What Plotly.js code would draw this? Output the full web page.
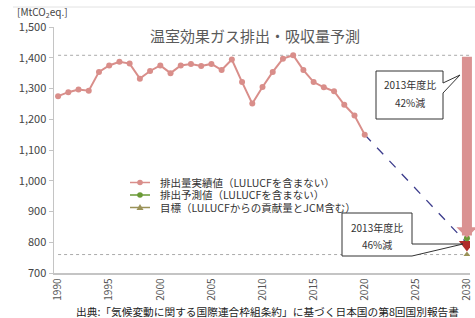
<!DOCTYPE html>
<html>
<head>
<meta charset="utf-8">
<script src="https://cdn.plot.ly/plotly-3.0.1.min.js"></script>
<style>html,body{margin:0;padding:0;background:#fff;}#chart{width:475px;height:318px;}</style>
</head>
<body>
<div id="chart"></div>
<script>
// ---- data ----
const years = [1990,1991,1992,1993,1994,1995,1996,1997,1998,1999,2000,2001,2002,2003,2004,2005,2006,2007,2008,2009,2010,2011,2012,2013,2014,2015,2016,2017,2018,2019,2020];
const actual = [1275,1288,1297,1293,1354,1375,1387,1381,1332,1357,1375,1350,1375,1380,1373,1380,1360,1394,1321,1251,1305,1354,1397,1408,1360,1321,1304,1291,1247,1212,1150];
const projLineYears = [2020, 2030];
const projLineValues = [1150, 797];
const projYears = [2030];
const projValues = [813];
const redYears = [2030];
const redValues = [793];
const targetYears = [2030];
const targetValues = [760];
const base2013 = 1408;
const targetLevel = 760;
const arrowTip = 815;
const xTicks = [1990,1995,2000,2005,2010,2015,2020,2025,2030];
const yTicks = [700,800,900,1000,1100,1200,1300,1400,1500];
const legendNames = ['排出量実績値（LULUCFを含まない）','排出予測値（LULUCFを含まない）','目標（LULUCFからの貢献量とJCM含む）'];
const callout1 = ['2013年度比','42%減'];
const callout2 = ['2013年度比','46%減'];

// ---- colours ----
const cPink = '#d98e8a', cGreen = '#6a9a36', cOlive = '#9a9258', cNavy = '#3c3c8c', cRed = '#b02a2a', cArrow = '#da9292';
const F = '"Noto Sans CJK JP", "Noto Sans", sans-serif';

// pixel -> paper helpers (plot area: x 54..470, y 27..273)
const L = 54, T = 27, W = 416, H = 246;
const X = px => (px - L) / W;
const Y = py => (T + H - py) / H;

const traces = [
  {x: projLineYears, y: projLineValues, mode: 'lines', line: {color: cNavy, width: 1.3, dash: 'dash'}, showlegend: false, hoverinfo: 'skip'},
  {x: years, y: actual, mode: 'lines+markers', line: {color: cPink, width: 2}, marker: {color: cPink, size: 6}, showlegend: false},
  {x: redYears, y: redValues, mode: 'markers', marker: {color: cRed, size: 14, symbol: 'triangle-down'}, showlegend: false},
  {x: projYears, y: projValues, mode: 'markers', marker: {color: cGreen, size: 6}, showlegend: false},
  {x: targetYears, y: targetValues, mode: 'markers', marker: {color: cOlive, size: 6, symbol: 'triangle-up'}, showlegend: false}
];

const shapes = [
  // frame line at top
  {type: 'line', xref: 'paper', yref: 'paper', x0: X(13), x1: X(475), y0: Y(7), y1: Y(7), line: {color: '#e2e2e2', width: 1}},
  // dotted reference lines
  {type: 'line', xref: 'x', yref: 'y', x0: 1990, x1: 2030.3, y0: base2013, y1: base2013, line: {color: '#aaaaaa', width: 1, dash: 'dot'}, layer: 'below'},
  {type: 'line', xref: 'x', yref: 'y', x0: 1990, x1: 2030.3, y0: targetLevel, y1: targetLevel, line: {color: '#aaaaaa', width: 1, dash: 'dot'}, layer: 'below'},
  // callout 1 (42%)
  {type: 'path', xref: 'paper', yref: 'paper', xsizemode: 'pixel', ysizemode: 'pixel', xanchor: 0, yanchor: 0,
   path: 'M322,154 L322,202 L389,202 L389,190 L406,198 L389,180 L389,154 Z', fillcolor: '#ffffff', line: {color: '#333333', width: 1}},
  // callout 2 (46%)
  {type: 'path', xref: 'paper', yref: 'paper', xsizemode: 'pixel', ysizemode: 'pixel', xanchor: 0, yanchor: 0,
   path: 'M288,17 L288,60 L358,60 L358,29 L409,29 L358,17 Z', fillcolor: '#ffffff', line: {color: '#333333', width: 1}}
];

// manual legend
const legColors = [cPink, cGreen, cOlive];
const legRows = [182.5, 195, 207.5];
const annotations = [
  // big pink arrow from the 2013 level down to the 2030 projection
  {xref: 'x', yref: 'y', axref: 'x', ayref: 'y', x: 2030, y: arrowTip, ax: 2030, ay: base2013, text: '', showarrow: true,
   arrowhead: 1, arrowsize: 0.35, arrowwidth: 10, arrowcolor: cArrow, standoff: 0, startstandoff: 0}
];
legRows.forEach((py, i) => {
  shapes.push({type: 'line', xref: 'paper', yref: 'paper', x0: X(130), x1: X(150), y0: Y(py), y1: Y(py), line: {color: legColors[i], width: 1.5}});
  if (i < 2) {
    shapes.push({type: 'circle', xref: 'paper', yref: 'paper', xsizemode: 'pixel', ysizemode: 'pixel', xanchor: X(140), yanchor: Y(py), x0: -2.8, x1: 2.8, y0: -2.8, y1: 2.8, fillcolor: legColors[i], line: {width: 0}});
  } else {
    shapes.push({type: 'path', xref: 'paper', yref: 'paper', xsizemode: 'pixel', ysizemode: 'pixel', xanchor: X(140), yanchor: Y(py), path: 'M-3.5,-2.5 L3.5,-2.5 L0,3.5 Z', fillcolor: legColors[i], line: {width: 0}});
  }
  annotations.push({xref: 'paper', yref: 'paper', x: X(158), y: Y(py), xanchor: 'left', yanchor: 'middle', showarrow: false, text: legendNames[i], font: {family: F, size: 10.5, color: '#333'}});
});

annotations.push(
  {xref: 'paper', yref: 'paper', x: X(15), y: Y(12), xanchor: 'left', yanchor: 'middle', showarrow: false, text: '[MtCO<sub>2</sub>eq.]', font: {family: F, size: 10, color: '#444'}},
  {xref: 'paper', yref: 'paper', x: X(409.5), y: Y(84), xanchor: 'center', yanchor: 'middle', showarrow: false, text: callout1[0], font: {family: F, size: 10, color: '#333'}},
  {xref: 'paper', yref: 'paper', x: X(409.5), y: Y(102), xanchor: 'center', yanchor: 'middle', showarrow: false, text: callout1[1], font: {family: F, size: 10, color: '#333'}},
  {xref: 'paper', yref: 'paper', x: X(377), y: Y(227), xanchor: 'center', yanchor: 'middle', showarrow: false, text: callout2[0], font: {family: F, size: 10, color: '#333'}},
  {xref: 'paper', yref: 'paper', x: X(377), y: Y(244), xanchor: 'center', yanchor: 'middle', showarrow: false, text: callout2[1], font: {family: F, size: 10, color: '#333'}},
  {xref: 'paper', yref: 'paper', x: X(267), y: Y(311), xanchor: 'center', yanchor: 'middle', showarrow: false, text: '出典:「気候変動に関する国際連合枠組条約」に基づく日本国の第8回国別報告書', font: {family: F, size: 10.7, color: '#222'}}
);

const layout = {
  width: 475, height: 318,
  margin: {l: L, r: 475 - L - W, t: T, b: 318 - T - H, pad: 0},
  paper_bgcolor: '#ffffff', plot_bgcolor: '#ffffff',
  showlegend: false,
  title: {text: '温室効果ガス排出・吸収量予測', x: 255/475, xanchor: 'center', y: 1 - 37/318, yanchor: 'middle', font: {family: F, size: 15, color: '#5a5a5a'}},
  xaxis: {range: [1989.6, 2030.3], tickvals: xTicks, ticktext: xTicks.map(String), tickangle: -90, showgrid: false, zeroline: false,
          showline: true, linecolor: '#c4c4c4', linewidth: 1.5, ticks: '', tickfont: {family: F, size: 10, color: '#555'}},
  yaxis: {range: [700, 1500], tickvals: yTicks, ticktext: yTicks.map(v => v.toLocaleString('en-US')), showgrid: false, zeroline: false,
          showline: true, linecolor: '#c4c4c4', linewidth: 1.5, ticks: 'outside', ticklen: 4, tickcolor: '#c4c4c4', tickfont: {family: F, size: 11, color: '#444'}},
  shapes: shapes,
  annotations: annotations
};

Plotly.newPlot('chart', traces, layout, {displayModeBar: false, staticPlot: true});
</script>
</body>
</html>
